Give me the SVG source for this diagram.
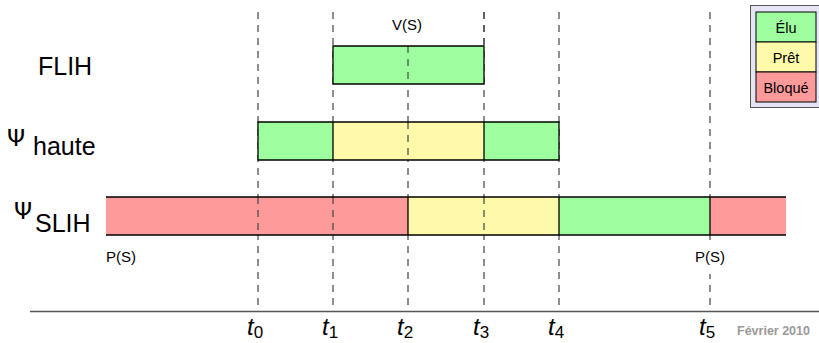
<svg xmlns="http://www.w3.org/2000/svg" width="819" height="343" viewBox="0 0 819 343">
<style>
text{font-family:"Liberation Sans",Arial,sans-serif;fill:#000}
.g{fill:#9eff9e}.y{fill:#fffaaa}.r{fill:#ff9a9a}
.edge{stroke:#000;stroke-width:1.3;fill:none}
.dash{stroke:#444;stroke-width:1.2;stroke-dasharray:7,6;fill:none}
.lbl{font-size:25px}
.psi{font-size:23px;font-family:"DejaVu Sans",sans-serif}
.sm{font-size:15px}
.leg{font-size:14.5px}
.t{font-size:24px;font-style:italic}
.sub{font-size:17px;font-style:normal}
</style>
<rect width="819" height="343" fill="#fff"/>
<g id="connectors">
<path class="dash" d="M258 12V311 M333 12V311 M408 12V311 M484 12V311 M559 12V311 M710 12V311"/>
<path d="M30 311.5H819" stroke="#555" stroke-width="1.3"/>
</g>
<g id="legend">
<rect x="750.5" y="5.5" width="75" height="102" fill="#e4e4f4" stroke="#555" stroke-width="1"/>
<rect x="756" y="12" width="60" height="30" class="g" stroke="#000" stroke-width="1"/>
<rect x="756" y="42" width="60" height="30" class="y" stroke="#000" stroke-width="1"/>
<rect x="756" y="72" width="60" height="30" class="r" stroke="#000" stroke-width="1"/>
<text x="786" y="33" class="leg" text-anchor="middle">Élu</text>
<text x="786" y="63" class="leg" text-anchor="middle">Prêt</text>
<text x="786" y="93" class="leg" text-anchor="middle">Bloqué</text>
</g>
<g id="flih">
<rect x="333" y="46" width="151" height="38" class="g"/>
<path class="dash" d="M408 46V84"/>
<path class="edge" d="M333 46H484V84H333Z"/>
<text x="38" y="75" class="lbl">FLIH</text>
</g>
<g id="haute">
<rect x="258" y="122" width="75" height="38" class="g"/>
<rect x="333" y="122" width="151" height="38" class="y"/>
<rect x="484" y="122" width="75" height="38" class="g"/>
<path class="dash" d="M408 122V160"/>
<path class="edge" d="M258 122H559V160H258Z M333 122V160 M484 122V160"/>
<text x="7" y="146" class="psi">Ψ</text>
<text x="33" y="155" class="lbl">haute</text>
</g>
<g id="slih">
<rect x="106" y="197" width="302" height="38" class="r"/>
<rect x="408" y="197" width="151" height="38" class="y"/>
<rect x="559" y="197" width="151" height="38" class="g"/>
<rect x="710" y="197" width="76" height="38" class="r"/>
<path class="dash" d="M258 197V235 M333 197V235 M484 197V235"/>
<path class="edge" d="M106 197H786 M106 235H786 M408 197V235 M559 197V235 M710 197V235"/>
<text x="14" y="219" class="psi">Ψ</text>
<text x="35" y="232" class="lbl">SLIH</text>
</g>
<g id="labels">
<rect x="330" y="10" width="150" height="35" fill="#fff"/>
<path class="dash" d="M333 12V46 M484 12V46"/>
<rect x="690" y="241" width="40" height="33" fill="#fff"/>
<text x="392" y="30" class="sm">V(S)</text>
<text x="106" y="262" class="sm">P(S)</text>
<text x="695" y="262" class="sm">P(S)</text>
<text x="247" y="335" class="t">t<tspan class="sub" dy="3">0</tspan></text>
<text x="322" y="335" class="t">t<tspan class="sub" dy="3">1</tspan></text>
<text x="397" y="335" class="t">t<tspan class="sub" dy="3">2</tspan></text>
<text x="473" y="335" class="t">t<tspan class="sub" dy="3">3</tspan></text>
<text x="548" y="335" class="t">t<tspan class="sub" dy="3">4</tspan></text>
<text x="699" y="335" class="t">t<tspan class="sub" dy="3">5</tspan></text>
<text x="737" y="335" font-size="12.5" font-weight="bold" style="fill:#999">Février 2010</text>
</g>
</svg>
